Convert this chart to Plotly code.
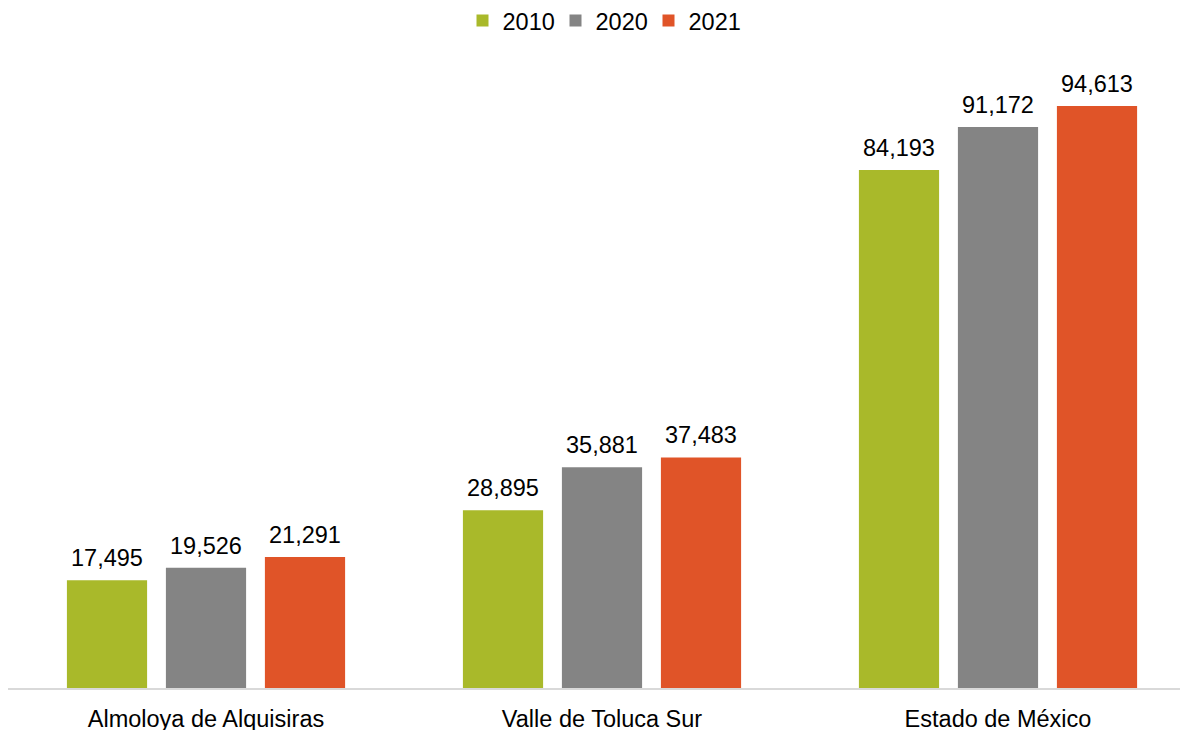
import plotly.graph_objects as go

categories = ['Almoloya de Alquisiras', 'Valle de Toluca Sur', 'Estado de México']
years = ['2010', '2020', '2021']
values_2010 = [17495, 28895, 84193]
values_2020 = [19526, 35881, 91172]
values_2021 = [21291, 37483, 94613]

series = [values_2010, values_2020, values_2021]
colors = ['#A9B92A', '#848484', '#E05428']
# pixel shift of each bar's centre from its category centre (label placement)
label_shift = [-99, 0, 99]

fig = go.Figure()
for name, vals, col in zip(years, series, colors):
    fig.add_trace(go.Bar(
        x=categories,
        y=vals,
        name=name,
        marker=dict(color=col, line=dict(width=0)),
        hovertemplate='%{x}<br>' + name + ': %{y:,.0f}<extra></extra>',
    ))

# value labels above the bars
for vals, dx in zip(series, label_shift):
    for cat, v in zip(categories, vals):
        fig.add_annotation(
            x=cat, y=v, xref='x', yref='y',
            text=f'{v:,}',
            showarrow=False,
            xanchor='center', yanchor='bottom',
            xshift=dx, yshift=7,
            font=dict(size=23.5, color='#000000'),
        )

fig.update_layout(
    width=1188,
    height=730,
    barmode='group',
    bargap=0.25,
    bargroupgap=0.19,
    margin=dict(t=42, b=50, l=0, r=0, autoexpand=False),
    paper_bgcolor='white',
    plot_bgcolor='white',
    font=dict(family='Arial, Liberation Sans, sans-serif', size=23.5, color='#000000'),
    legend=dict(
        orientation='h',
        xref='container',
        x=0.5,
        xanchor='center',
        yref='paper',
        y=1.0804,
        yanchor='top',
        font=dict(size=23.5),
        entrywidth=48,
    ),
    xaxis=dict(
        range=[-0.5, 2.5],
        showline=True,
        linecolor='#D9D9D9',
        linewidth=1.5,
        showgrid=False,
        ticks='',
        ticklabelstandoff=9,
        automargin=False,
    ),
    yaxis=dict(
        range=[0, 103700],
        visible=False,
        automargin=False,
    ),
)

fig.write_html('out.html')
